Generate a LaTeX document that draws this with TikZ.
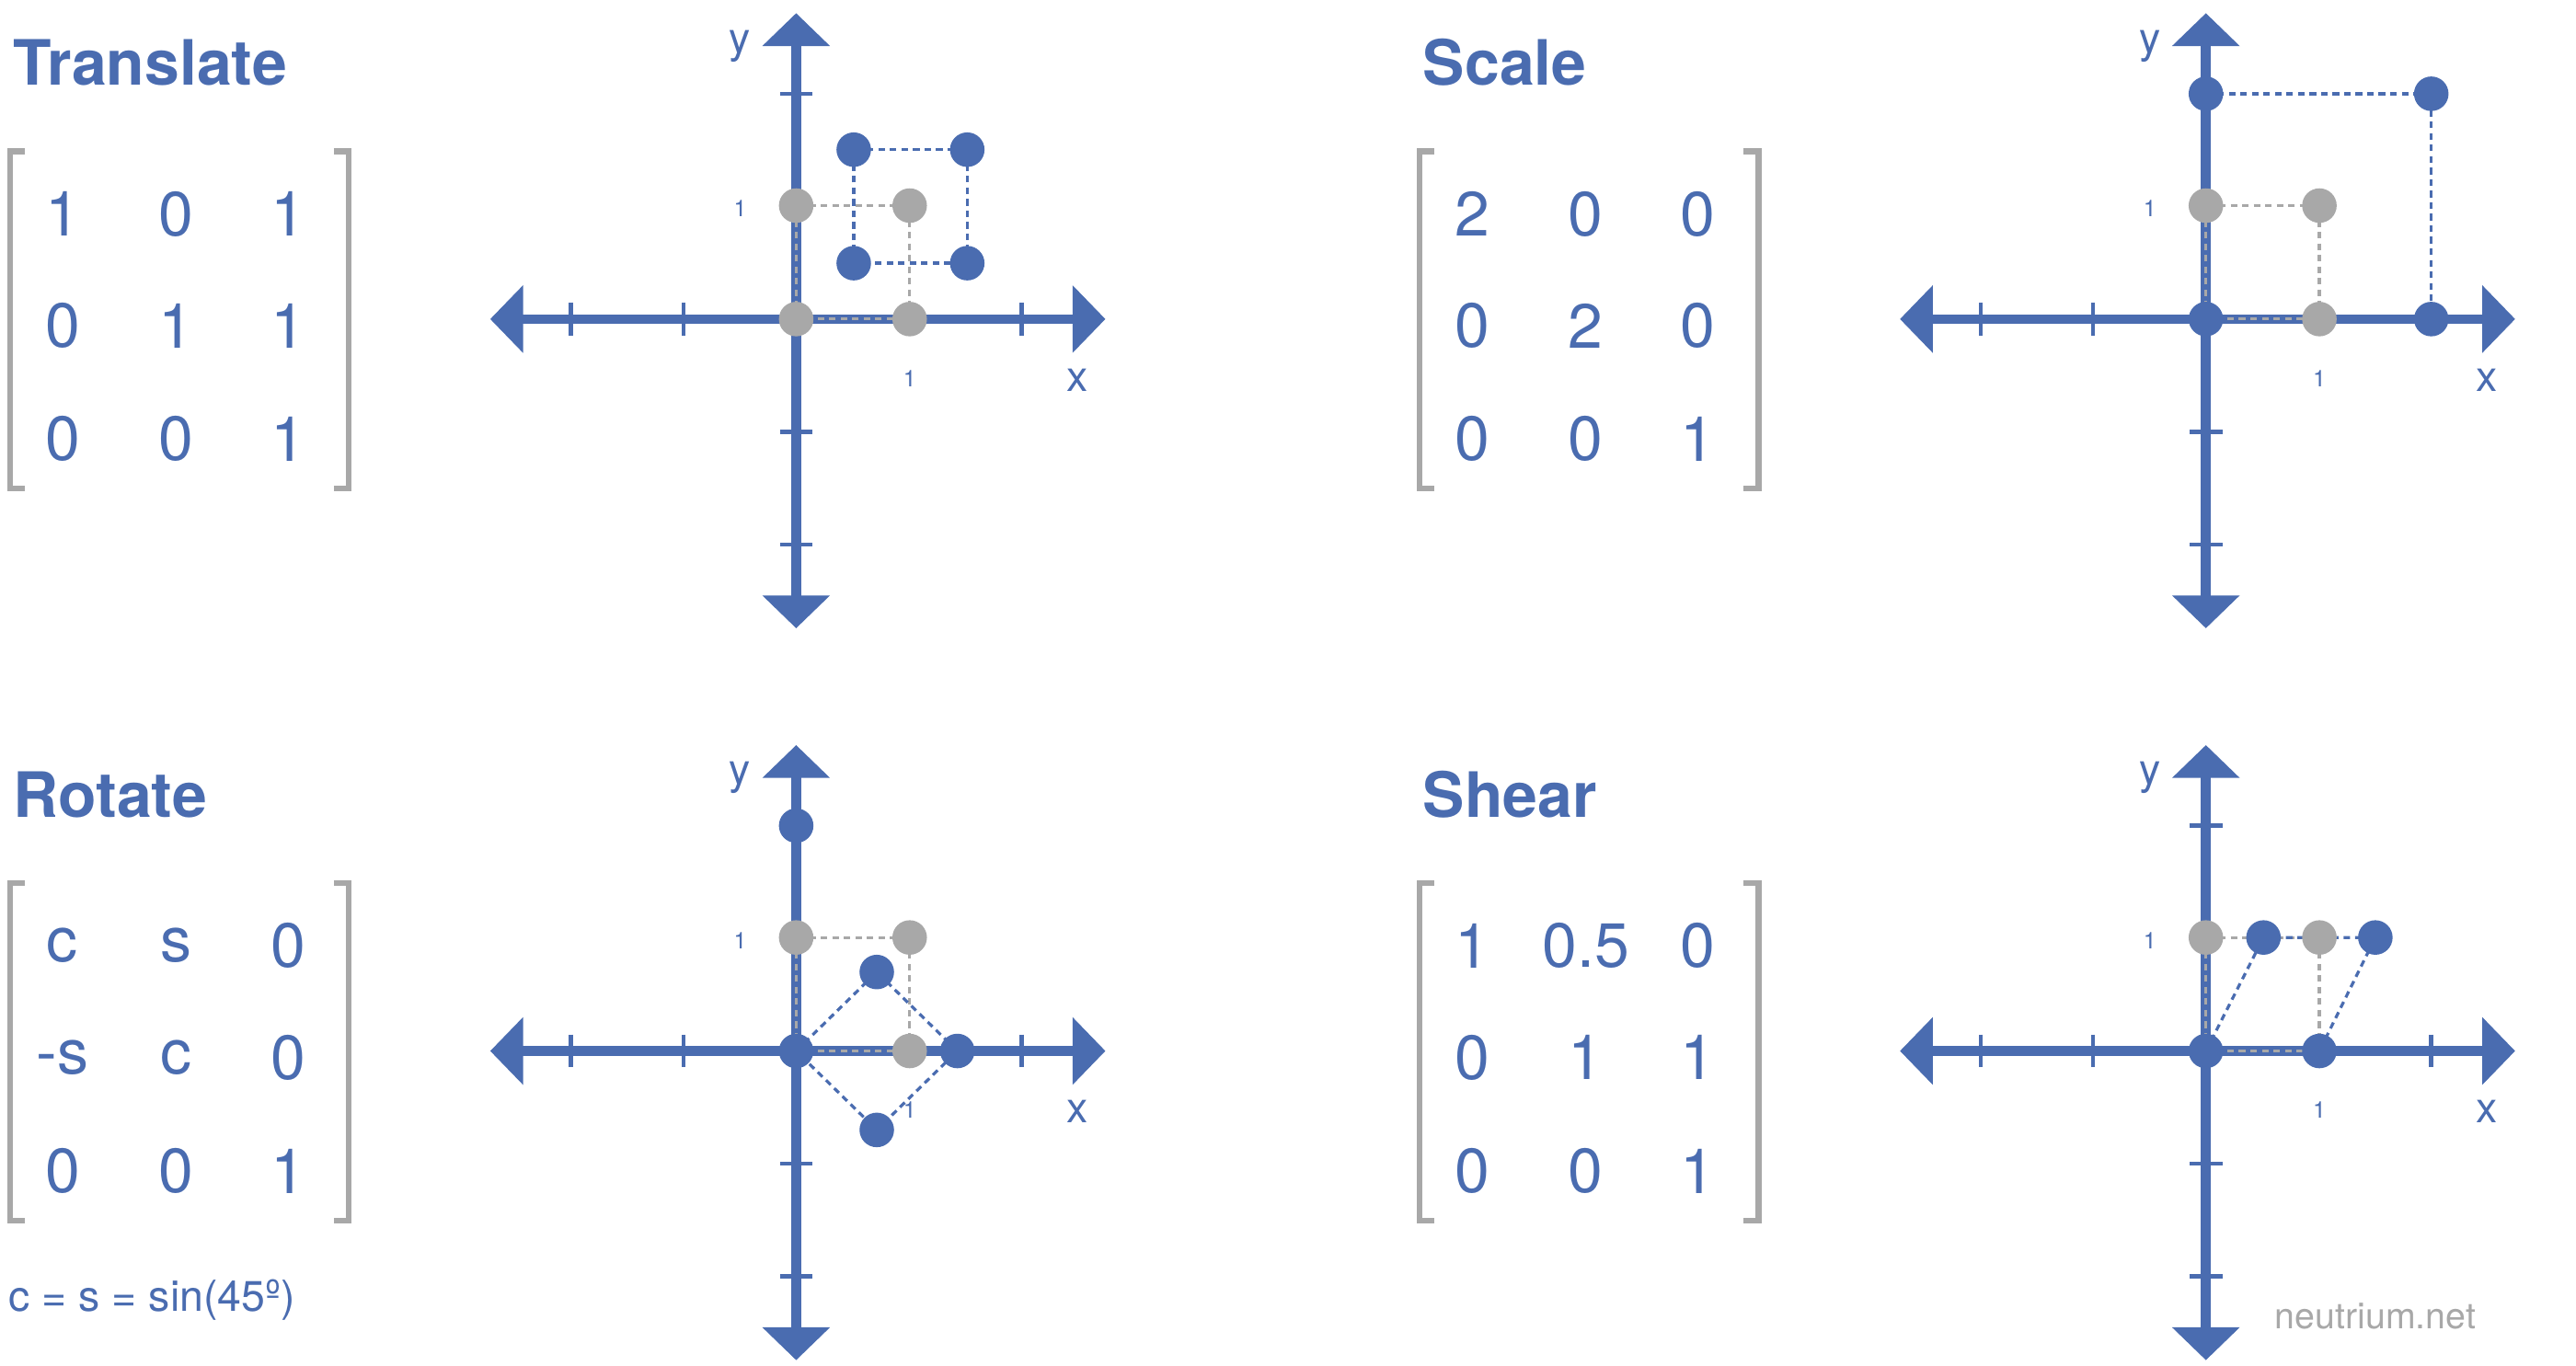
\documentclass[tikz,border=0pt]{standalone}
\usepackage{fontspec}
\setmainfont{TeX Gyre Heros}
\usetikzlibrary{arrows.meta}
\definecolor{nb}{RGB}{74,108,176}
\definecolor{ng}{RGB}{168,168,168}
\tikzset{
 axis/.style={nb,line width=6pt,{Triangle[length=20pt,width=40pt]}-{Triangle[length=20pt,width=40pt]}},
 tick/.style={nb,line width=2.5pt},
 bpt/.style={circle,fill=nb,inner sep=0pt,minimum size=21pt},
 gpt/.style={circle,fill=ng,inner sep=0pt,minimum size=21pt},
 bdash/.style={nb,line width=1.8pt,dash pattern=on 4pt off 3pt},
 gdash/.style={ng,line width=1.8pt,dash pattern=on 4pt off 3pt},
 brk/.style={ng,line width=3.5pt},
 ttl/.style={nb,font=\fontsize{38}{40}\selectfont\bfseries,anchor=base west,inner sep=0pt},
 ent/.style={nb,font=\fontsize{38}{40}\selectfont,inner sep=0pt},
 lab/.style={nb,font=\fontsize{26}{28}\selectfont,inner sep=0pt},
 one/.style={nb,font=\fontsize{14}{16}\selectfont,inner sep=0pt},
}
\newcommand\myaxes[1]{%
 \coordinate (#1o) at (0,0);
 \coordinate (#1l) at (-186,0); \coordinate (#1r) at (188,0);
 \coordinate (#1t) at (0,-186); \coordinate (#1b) at (0,188);
 \draw[axis] (#1l) -- (#1r);
 \draw[axis] (#1t) -- (#1b);
 \foreach \k in {-2,-1,1,2}{\draw[tick] (\k*68.5,-10) -- (\k*68.5,10); \draw[tick] (-10,\k*68.5) -- (10,\k*68.5);}
 \node[lab] (#1y) at (-34,-166) {y};
 \node[lab] (#1x) at (171,37) {x};
 \node[one] (#1oy) at (-34,-67) {1};
 \node[one] (#1ox) at (69,36) {1};
}
\newcommand\mymatrix[9]{%
 \draw[brk] (15,92) -- (6,92) -- (6,297) -- (15,297);
 \draw[brk] (203,92) -- (212,92) -- (212,297) -- (203,297);
 \node[ent] at (38,130) {#1}; \node[ent] at (107,130) {#2}; \node[ent] at (175,130) {#3};
 \node[ent] at (38,198) {#4}; \node[ent] at (107,198) {#5}; \node[ent] at (175,198) {#6};
 \node[ent] at (38,267) {#7}; \node[ent] at (107,267) {#8}; \node[ent] at (175,267) {#9};
}
\begin{document}
\begin{tikzpicture}[x=1pt,y=-1pt]
\useasboundingbox (0,0) rectangle (1566,830);
% ---- Translate
\node[ttl] (t1) at (8,52) {Translate};
\mymatrix{1}{0}{1}{0}{1}{1}{0}{0}{1}
\begin{scope}[shift={(484,194)}]
\myaxes{a}
\coordinate (ag0) at (0,0); \coordinate (ag1) at (0,-69); \coordinate (ag2) at (69,-69); \coordinate (ag3) at (69,0);
\coordinate (ab0) at (35,-34); \coordinate (ab1) at (35,-103); \coordinate (ab2) at (104,-103); \coordinate (ab3) at (104,-34);
\draw[gdash] (ag0) -- (ag1) -- (ag2) -- (ag3) -- (ag0);
\draw[bdash] (ab0) -- (ab1) -- (ab2) -- (ab3) -- (ab0);
\node[gpt] at (ag0) {}; \node[gpt] at (ag1) {}; \node[gpt] at (ag2) {}; \node[gpt] at (ag3) {};
\node[bpt] at (ab0) {}; \node[bpt] at (ab1) {}; \node[bpt] at (ab2) {}; \node[bpt] at (ab3) {};
\end{scope}
% ---- Scale
\node[ttl] (t2) at (865,52) {Scale};
\begin{scope}[shift={(857,0)}]
\mymatrix{2}{0}{0}{0}{2}{0}{0}{0}{1}
\end{scope}
\begin{scope}[shift={(1341,194)}]
\myaxes{b}
\coordinate (bg0) at (0,0); \coordinate (bg1) at (0,-69); \coordinate (bg2) at (69,-69); \coordinate (bg3) at (69,0);
\coordinate (bb0) at (0,0); \coordinate (bb1) at (0,-137); \coordinate (bb2) at (137,-137); \coordinate (bb3) at (137,0);
\draw[gdash] (bg0) -- (bg1) -- (bg2) -- (bg3) -- (bg0);
\draw[bdash] (bb1) -- (bb2) -- (bb3);
\node[gpt] at (bg1) {}; \node[gpt] at (bg2) {}; \node[gpt] at (bg3) {};
\node[bpt] at (bb0) {}; \node[bpt] at (bb1) {}; \node[bpt] at (bb2) {}; \node[bpt] at (bb3) {};
\end{scope}
% ---- Rotate
\node[ttl] (t3) at (8,497) {Rotate};
\begin{scope}[shift={(0,445)}]
\mymatrix{c}{s}{0}{-s}{c}{0}{0}{0}{1}
\end{scope}
\node[lab,anchor=base west] (note) at (5,797) {c = s = sin(45º)};
\begin{scope}[shift={(484,639)}]
\myaxes{c}
\coordinate (cg0) at (0,0); \coordinate (cg1) at (0,-69); \coordinate (cg2) at (69,-69); \coordinate (cg3) at (69,0);
\coordinate (cb0) at (0,0); \coordinate (cb1) at (49,-48); \coordinate (cb2) at (98,0); \coordinate (cb3) at (49,48);
\coordinate (cb4) at (0,-137);
\draw[gdash] (cg0) -- (cg1) -- (cg2) -- (cg3) -- (cg0);
\draw[bdash] (cb0) -- (cb1) -- (cb2) -- (cb3) -- (cb0);
\node[gpt] at (cg1) {}; \node[gpt] at (cg2) {}; \node[gpt] at (cg3) {};
\node[bpt] at (cb0) {}; \node[bpt] at (cb1) {}; \node[bpt] at (cb2) {}; \node[bpt] at (cb3) {}; \node[bpt] at (cb4) {};
\end{scope}
% ---- Shear
\node[ttl] (t4) at (865,497) {Shear};
\begin{scope}[shift={(857,445)}]
\mymatrix{1}{0.5}{0}{0}{1}{1}{0}{0}{1}
\end{scope}
\begin{scope}[shift={(1341,639)}]
\myaxes{d}
\coordinate (dg0) at (0,0); \coordinate (dg1) at (0,-69); \coordinate (dg2) at (69,-69); \coordinate (dg3) at (69,0);
\coordinate (db0) at (0,0); \coordinate (db1) at (35,-69); \coordinate (db2) at (103,-69); \coordinate (db3) at (69,0);
\draw[gdash] (dg0) -- (dg1) -- (dg2) -- (dg3) -- (dg0);
\draw[bdash] (db0) -- (db1) -- (db2) -- (db3);
\node[gpt] at (dg1) {}; \node[gpt] at (dg2) {};
\node[bpt] at (db0) {}; \node[bpt] at (db1) {}; \node[bpt] at (db2) {}; \node[bpt] at (db3) {};
\end{scope}
\node[ng,font=\fontsize{22}{24}\selectfont,inner sep=0pt] (wm) at (1444,800) {neutrium.net};
\end{tikzpicture}
\end{document}
